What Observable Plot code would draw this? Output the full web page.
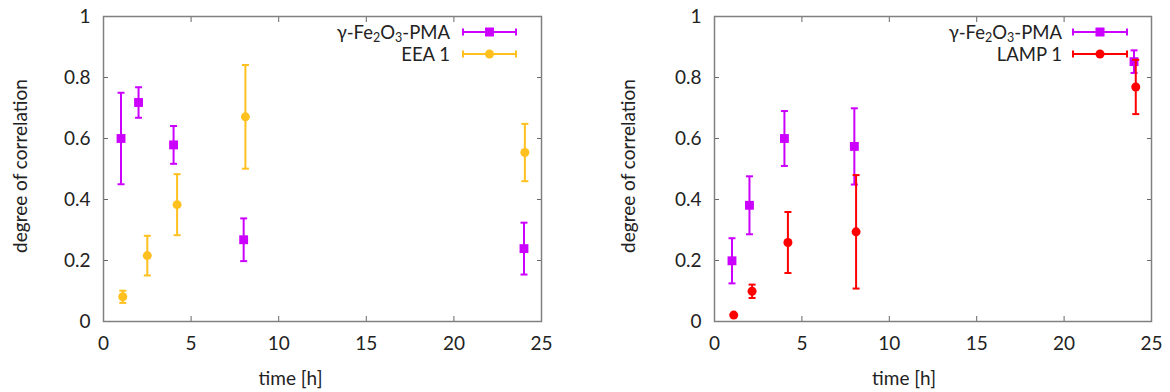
<!DOCTYPE html>
<html><head><meta charset="utf-8">
<script src="https://cdn.jsdelivr.net/npm/d3@7"></script>
<script src="https://cdn.jsdelivr.net/npm/@observablehq/plot@0.6"></script>
<style>
body{margin:0;background:#fff;font-family:Lato,sans-serif}
#wrap{position:relative;width:1170px;height:392px;display:flex}
#wrap > svg{flex:none}
.lg{position:absolute;font:18.5px Lato,sans-serif;color:#222;text-align:right;white-space:nowrap;line-height:18px;height:18px}
.lg sub{font-size:12.5px;vertical-align:-3px;line-height:0}
</style>
</head><body><div id="wrap"></div>
<script>
// ---- data ----
const xTicks = [0, 5, 10, 15, 20, 25];
const xTickLabels = ["0", "5", "10", "15", "20", "25"];
const yTicks = [0, 0.2, 0.4, 0.6, 0.8, 1];
const yTickLabels = ["0", "0.2", "0.4", "0.6", "0.8", "1"];

const pmaLeftTime  = [1, 2, 4, 8, 24];
const pmaLeftValue = [0.600, 0.718, 0.579, 0.268, 0.239];
const pmaLeftErr   = [0.150, 0.050, 0.062, 0.070, 0.085];

const eeaTime  = [1.1, 2.5, 4.2, 8.1, 24.05];
const eeaValue = [0.081, 0.216, 0.383, 0.671, 0.554];
const eeaErr   = [0.020, 0.065, 0.100, 0.170, 0.094];

const pmaRightTime  = [1, 2, 4, 8, 24];
const pmaRightValue = [0.199, 0.381, 0.600, 0.574, 0.852];
const pmaRightErr   = [0.074, 0.095, 0.090, 0.125, 0.037];

const lampTime  = [1.1, 2.15, 4.2, 8.1, 24.1];
const lampValue = [0.021, 0.099, 0.259, 0.294, 0.769];
const lampErr   = [0.000, 0.022, 0.100, 0.186, 0.089];

const PURPLE = "#cc00ff", GOLD = "#ffc020", RED = "#ff0000";
const FS = 19;

function rows(t, v, e) { return t.map((x, i) => ({x, y: v[i], lo: v[i] - e[i], hi: v[i] + e[i]})); }

const capSymbol = {
  draw(ctx, size) { const w = Math.sqrt(size / Math.PI); ctx.moveTo(-w, 0); ctx.lineTo(w, 0); }
};

function seriesMarks(data, color, symbol, r) {
  return [
    Plot.ruleX(data, {x: "x", y1: "lo", y2: "hi", stroke: color, strokeWidth: 2}),
    Plot.dot(data, {x: "x", y: "hi", symbol: capSymbol, r: 3.5, stroke: color, strokeWidth: 2, fill: "none"}),
    Plot.dot(data, {x: "x", y: "lo", symbol: capSymbol, r: 3.5, stroke: color, strokeWidth: 2, fill: "none"}),
    Plot.dot(data, {x: "x", y: "y", symbol, r, fill: color, stroke: "none"})
  ];
}

function panel(opts) {
  return Plot.plot({
    width: 585, height: 392,
    marginLeft: opts.ml, marginRight: opts.mr, marginTop: 16, marginBottom: 71,
    style: {fontFamily: "Lato, sans-serif", fontSize: FS + "px", color: "#222", background: "white", overflow: "visible"},
    x: {domain: [0, 25]},
    y: {domain: [0, 1]},
    marks: [
      Plot.axisX({ticks: xTicks, tickFormat: (d, i) => xTickLabels[i], tickSize: 0, tickPadding: 15, label: null, fontSize: FS}),
      Plot.axisY({ticks: yTicks, tickFormat: (d, i) => yTickLabels[i], tickSize: 0, tickPadding: 13, label: null, fontSize: FS}),
      Plot.axisX({anchor: "bottom", ticks: xTicks, tickSize: -5, tickFormat: () => "", label: null, stroke: "#666"}),
      Plot.axisX({anchor: "top", ticks: xTicks, tickSize: -5, tickFormat: () => "", label: null, stroke: "#666"}),
      Plot.axisY({anchor: "left", ticks: yTicks, tickSize: -5, tickFormat: () => "", label: null, stroke: "#666"}),
      Plot.axisY({anchor: "right", ticks: yTicks, tickSize: -5, tickFormat: () => "", label: null, stroke: "#666"}),
      Plot.frame({stroke: "#808080", strokeWidth: 1.5}),
      ...opts.series.flatMap(s => seriesMarks(s.data, s.color, s.symbol, s.r)),
      Plot.text(["degree of correlation"], {frameAnchor: "left", textAnchor: "middle", lineAnchor: "middle", dx: -opts.ylx, dy: -3, rotate: -90, fontSize: FS, fill: "#222"}),
      Plot.text(["time [h]"], {frameAnchor: "bottom", textAnchor: "middle", lineAnchor: "middle", dy: 57, dx: opts.xldx, fontSize: FS, fill: "#222"})
    ]
  });
}

const wrap = document.getElementById("wrap");
wrap.appendChild(panel({ml: 103, mr: 44, ylx: 83, xldx: -32, series: [
  {data: rows(pmaLeftTime, pmaLeftValue, pmaLeftErr), color: PURPLE, symbol: "square", r: 5},
  {data: rows(eeaTime, eeaValue, eeaErr), color: GOLD, symbol: "circle", r: 4.5}
]}));
wrap.appendChild(panel({ml: 129, mr: 19, ylx: 86, xldx: -29, series: [
  {data: rows(pmaRightTime, pmaRightValue, pmaRightErr), color: PURPLE, symbol: "square", r: 5},
  {data: rows(lampTime, lampValue, lampErr), color: RED, symbol: "circle", r: 4.5}
]}));

// ---- legends ----
const legends = [
  {textRight: 450, lineX1: 463, lineX2: 516, items: [
    {label: "γ-Fe<sub>2</sub>O<sub>3</sub>-PMA", color: PURPLE, shape: "square"},
    {label: "EEA 1", color: GOLD, shape: "circle"}]},
  {textRight: 1062, lineX1: 1073, lineX2: 1127, items: [
    {label: "γ-Fe<sub>2</sub>O<sub>3</sub>-PMA", color: PURPLE, shape: "square"},
    {label: "LAMP 1", color: RED, shape: "circle"}]}
];
const rowY = [32, 54];
const ov = d3.select(wrap).append("svg").attr("width", 1170).attr("height", 392)
  .style("position", "absolute").style("left", 0).style("top", 0).style("pointer-events", "none");
legends.forEach(L => {
  L.items.forEach((it, i) => {
    const y = rowY[i];
    const div = document.createElement("div");
    div.className = "lg";
    div.innerHTML = it.label;
    div.style.right = (1170 - L.textRight) + "px";
    div.style.top = (y - 9) + "px";
    wrap.appendChild(div);
    const g = ov.append("g").attr("stroke", it.color).attr("stroke-width", 2);
    g.append("line").attr("x1", L.lineX1).attr("x2", L.lineX2).attr("y1", y).attr("y2", y);
    g.append("line").attr("x1", L.lineX1).attr("x2", L.lineX1).attr("y1", y - 3.5).attr("y2", y + 3.5);
    g.append("line").attr("x1", L.lineX2).attr("x2", L.lineX2).attr("y1", y - 3.5).attr("y2", y + 3.5);
    const cx = (L.lineX1 + L.lineX2) / 2;
    if (it.shape === "square") g.append("rect").attr("x", cx - 4.5).attr("y", y - 4.5).attr("width", 9).attr("height", 9).attr("fill", it.color).attr("stroke", "none");
    else g.append("circle").attr("cx", cx).attr("cy", y).attr("r", 4.5).attr("fill", it.color).attr("stroke", "none");
  });
});
</script>
</body></html>
